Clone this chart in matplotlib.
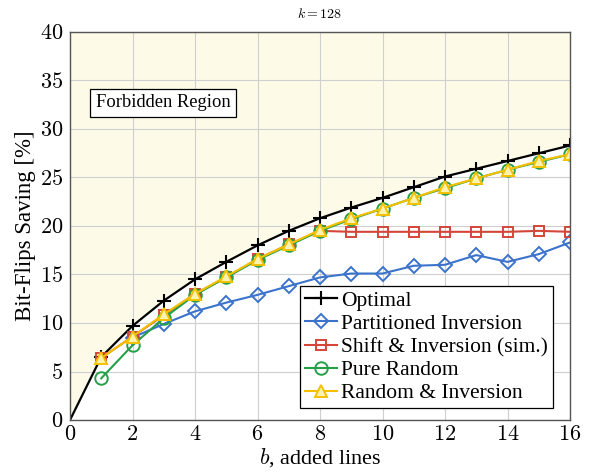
import numpy as np
import matplotlib
matplotlib.use("Agg")
import matplotlib.pyplot as plt
from matplotlib.ticker import FuncFormatter

plt.rcParams["font.family"] = "Liberation Serif"
plt.rcParams["mathtext.fontset"] = "cm"

# ---- data ----
b_opt = [0, 1, 2, 3, 4, 5, 6, 7, 8, 9, 10, 11, 12, 13, 14, 15, 16]
optimal = [0.0, 6.5, 9.7, 12.3, 14.5, 16.3, 18.0, 19.5, 20.8, 21.9, 22.9,
           24.0, 25.1, 25.9, 26.7, 27.5, 28.3]
b_part = [2, 3, 4, 5, 6, 7, 8, 9, 10, 11, 12, 13, 14, 15, 16]
partitioned = [8.5, 9.9, 11.2, 12.1, 12.9, 13.8, 14.7, 15.1, 15.1, 15.9,
               16.0, 17.0, 16.3, 17.1, 18.3]
b_all = [1, 2, 3, 4, 5, 6, 7, 8, 9, 10, 11, 12, 13, 14, 15, 16]
shift_inv = [6.4, 8.6, 10.8, 13.0, 14.7, 16.6, 18.1, 19.5, 19.4, 19.4,
             19.4, 19.4, 19.4, 19.4, 19.5, 19.4]
pure_random = [4.3, 7.7, 10.5, 12.9, 14.7, 16.5, 18.0, 19.5, 20.7, 21.8,
               22.9, 23.9, 24.9, 25.8, 26.6, 27.4]
random_inv = [6.4, 8.6, 10.9, 13.0, 14.8, 16.6, 18.1, 19.6, 20.8, 21.8,
              22.9, 24.0, 24.9, 25.8, 26.7, 27.4]

BLACK, BLUE, RED, GREEN, YELLOW = "#000000", "#3b73cc", "#d4463a", "#26a048", "#f5c000"

fig = plt.figure(figsize=(5.9, 4.72), dpi=100)
ax = fig.add_axes([70 / 590, 52 / 472, 500 / 590, 388 / 472])

# forbidden region above the optimal curve
ax.fill_between(b_opt, optimal, 40, color="#fdfbe8", zorder=0, lw=0)

ax.plot(b_opt, optimal, "-", color=BLACK, lw=1.6, zorder=3)
ax.plot(b_opt[1:], optimal[1:], "+", color=BLACK, ms=10, mew=1.5, zorder=3)
# legend proxy for optimal (line + marker)
ax.plot([], [], "+-", color=BLACK, ms=10, mew=1.5, lw=1.6, label="Optimal")
ax.plot(b_part, partitioned, "D-", color=BLUE, ms=7, mfc="none", mew=1.4,
        lw=1.5, zorder=4, label="Partitioned Inversion")
ax.plot(b_all, shift_inv, "s-", color=RED, ms=7.5, mfc="none", mew=1.4,
        lw=1.5, zorder=5, label="Shift & Inversion (sim.)")
ax.plot(b_all, pure_random, "o-", color=GREEN, ms=9, mfc="none", mew=1.4,
        lw=1.5, zorder=6, label="Pure Random")
ax.plot(b_all, random_inv, "^-", color=YELLOW, ms=8.5, mfc="#fdf3b0",
        mew=1.4, lw=1.5, zorder=7, label="Random & Inversion")

ax.text(2.97, 32.7, "Forbidden Region", fontsize=13.3, ha="center", va="center",
        zorder=8, bbox=dict(fc="white", ec="black", lw=0.9, boxstyle="square,pad=0.3"))

ax.set_xlim(0, 16)
ax.set_ylim(0, 40)
ax.set_xticks(range(0, 17, 2))
ax.set_yticks(range(0, 41, 5))
ax.xaxis.set_major_formatter(FuncFormatter(lambda v, p: f"${v:g}$"))
ax.yaxis.set_major_formatter(FuncFormatter(lambda v, p: f"${v:g}$"))
ax.tick_params(labelsize=16, length=0)
ax.tick_params(axis="y", pad=5)
ax.tick_params(axis="x", pad=4)
ax.grid(True, color="#cfcfcf", lw=0.8, zorder=1)
ax.set_axisbelow(False)
for s in ax.spines.values():
    s.set_color("#555555")
    s.set_linewidth(1.0)
    s.set_zorder(9)

ax.set_xlabel(r"$b$, added lines", fontsize=16, labelpad=1)
ax.set_ylabel("Bit-Flips Saving [%]", fontsize=16.5, labelpad=3)
ax.set_title(r"$k = 128$", fontsize=10, pad=10)

leg = ax.legend(loc="lower right", fontsize=15.5, frameon=True, fancybox=False,
                edgecolor="black", framealpha=1, handlelength=1.5,
                handletextpad=0.2, labelspacing=0.14, borderpad=0.22,
                borderaxespad=0.0, bbox_to_anchor=(0.966, 0.031))
leg.get_frame().set_linewidth(0.9)
leg.set_zorder(10)

fig.savefig("out.png", dpi=100)
